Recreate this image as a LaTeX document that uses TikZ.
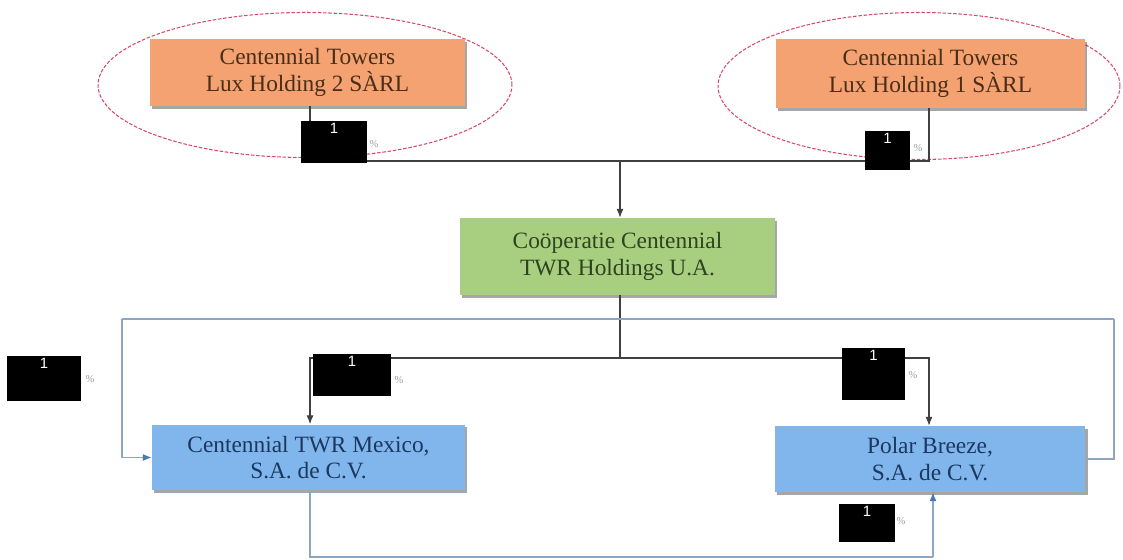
\documentclass[tikz,border=0pt]{standalone}
\usepackage{fontspec}
\setmainfont{Liberation Serif}
\newfontfamily\arialfont{Liberation Sans}
\usetikzlibrary{shapes.geometric,shadows,arrows.meta}
\definecolor{orangebox}{HTML}{F4A272}
\definecolor{greenbox}{HTML}{A8CF80}
\definecolor{bluebox}{HTML}{80B6EC}
\definecolor{orangetxt}{HTML}{4A2E18}
\definecolor{greentxt}{HTML}{2C4420}
\definecolor{bluetxt}{HTML}{1C3760}
\definecolor{ellred}{HTML}{D6486A}
\definecolor{loopcol}{HTML}{8EA6C4}
\definecolor{arrblue}{HTML}{4A78B0}
\tikzset{
  entity/.style={rectangle, align=center, font=\fontsize{13.3}{15}\selectfont, inner sep=2pt,
    drop shadow={shadow xshift=1.2pt, shadow yshift=-1.5pt, opacity=0.35, fill=black}},
  orangeent/.style={entity, fill=orangebox, text=orangetxt},
  greenent/.style={entity, fill=greenbox, text=greentxt},
  blueent/.style={entity, fill=bluebox, text=bluetxt},
  ring/.style={ellipse, draw=ellred, dashed, dash pattern=on 2pt off 1pt, line width=0.6pt, inner sep=0pt},
  redact/.style={rectangle, fill=black, inner sep=0pt},
  redtext/.style={text=white, font=\arialfont\fontsize{8.5}{9}\selectfont, inner sep=1.5pt},
  pct/.style={text=gray!80, font=\fontsize{6}{6}\selectfont, inner sep=0pt},
  conn/.style={draw=black!75, line width=0.6pt},
  loopline/.style={draw=loopcol, line width=0.7pt},
  tip/.style={-{Latex[length=5pt,width=4pt]}}
}
\begin{document}
\begin{tikzpicture}[x=0.02cm, y=-0.02cm]
\useasboundingbox (0,0) rectangle (1123,560);
% ellipses
\node[ring, minimum width=8.28cm, minimum height=2.90cm] (e2) at (305,85) {};
\node[ring, minimum width=8.04cm, minimum height=2.94cm] (e1) at (919,86) {};
% boxes
\node[orangeent, minimum width=6.30cm, minimum height=1.34cm] (lux2) at (307.5,72.5) {Centennial Towers\\Lux Holding 2 SÀRL};
\node[orangeent, minimum width=6.18cm, minimum height=1.38cm] (lux1) at (930.5,73.5) {Centennial Towers\\Lux Holding 1 SÀRL};
\node[greenent, minimum width=6.30cm, minimum height=1.54cm] (coop) at (617.5,256.5) {Coöperatie Centennial\\TWR Holdings U.A.};
\node[blueent, minimum width=6.26cm, minimum height=1.32cm] (mex) at (308.5,457.5) {Centennial TWR Mexico,\\S.A. de C.V.};
\node[blueent, minimum width=6.22cm, minimum height=1.32cm] (polar) at (930,459) {Polar Breeze,\\S.A. de C.V.};
% junction coordinates
\coordinate (jl) at (310,161);
\coordinate (jr) at (929,161);
\coordinate (jm) at (620,161);
\coordinate (kl) at (310,358);
\coordinate (kr) at (929,358);
\coordinate (km) at (620,358);
\coordinate (ol) at (122,319);
\coordinate (or) at (1114,319);
\coordinate (bl) at (310,557);
\coordinate (br) at (933,557);
% top connectors
\draw[conn] (lux2.south -| jl) -- (jl) -- (jr) -- (lux1.south -| jr);
\draw[conn, tip] (jm) -- (coop.north -| jm);
% middle connectors
\draw[conn] (coop.south -| km) -- (km);
\draw[conn, tip] (kl) -- (kr) -- (polar.north -| kr);
\draw[conn, tip] (kr) -- (kl) -- (mex.north -| kl);
% outer loop
\draw[loopline] (ol) -- (or);
\draw[loopline, -{Latex[length=5pt,width=4pt,color=arrblue]}] (ol) |- (mex.west);
\draw[loopline] (or) |- (polar.east);
% bottom loop
\draw[loopline] (mex.south -| bl) -- (bl) -- (br);
\draw[loopline, -{Latex[length=5pt,width=4pt,color=arrblue]}] (br) -- (polar.south -| br);
% redaction boxes
\node[redact, minimum width=1.32cm, minimum height=0.84cm, label={[redtext, anchor=north]north:1}] (r1) at (334,142) {};
\node[redact, minimum width=0.90cm, minimum height=0.78cm, label={[redtext, anchor=north]north:1}] (r2) at (887.5,150.5) {};
\node[redact, minimum width=1.48cm, minimum height=0.90cm, label={[redtext, anchor=north]north:1}] (r3) at (44,378.5) {};
\node[redact, minimum width=1.56cm, minimum height=0.84cm, label={[redtext, anchor=north]north:1}] (r4) at (352,375) {};
\node[redact, minimum width=1.26cm, minimum height=1.04cm, label={[redtext, anchor=north]north:1}] (r5) at (873.5,374) {};
\node[redact, minimum width=1.12cm, minimum height=0.76cm, label={[redtext, anchor=north]north:1}] (r6) at (867,523) {};
% percent signs
\node[pct] (p1) at (374,144) {\%};
\node[pct] (p2) at (918,148) {\%};
\node[pct] (p3) at (90,379) {\%};
\node[pct] (p4) at (399,380) {\%};
\node[pct] (p5) at (913,375) {\%};
\node[pct] (p6) at (901,521) {\%};
\end{tikzpicture}
\end{document}
